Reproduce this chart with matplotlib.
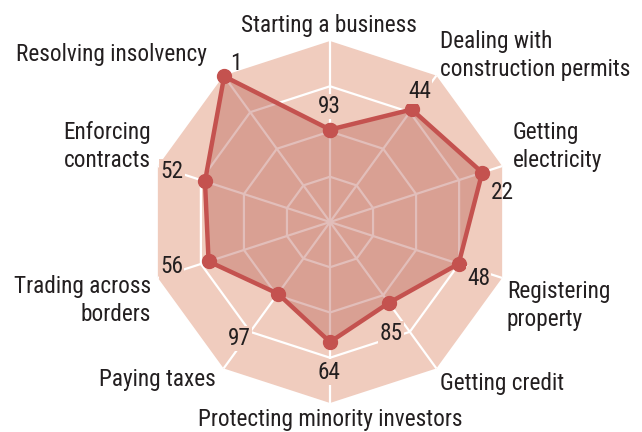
import numpy as np
import matplotlib
matplotlib.use("Agg")
import matplotlib.pyplot as plt
from matplotlib import font_manager
from matplotlib.font_manager import FontProperties

# ---- data ----
categories = ["Starting a business", "Dealing with\nconstruction permits",
              "Getting\nelectricity", "Registering\nproperty", "Getting credit",
              "Protecting minority investors", "Paying taxes",
              "Trading across\nborders", "Enforcing\ncontracts",
              "Resolving insolvency"]
ranks = [93, 44, 22, 48, 85, 64, 97, 56, 52, 1]
rank_max = 190
ring_fractions = [0.25, 0.5, 0.75]

# ---- font choice: a condensed sans if one is installed ----
entries = font_manager.fontManager.ttflist
def has(name, stretch=None):
    for f in entries:
        if f.name == name:
            if stretch is None:
                return True
            s = f.stretch
            if isinstance(s, str) and "condensed" in s:
                return True
            if isinstance(s, int) and s < 500:
                return True
    return False

choice = None
for nm in ["Roboto Condensed", "Liberation Sans Narrow", "Noto Sans Condensed",
           "Open Sans Condensed", "Noto Sans Display Condensed"]:
    if has(nm):
        choice = FontProperties(family=nm)
        break
if choice is None:
    for nm in ["Noto Sans", "Open Sans", "DejaVu Sans"]:
        if has(nm, "condensed"):
            choice = FontProperties(family=nm, stretch="condensed")
            break
if choice is None:
    choice = FontProperties(family="Lato")

TXT = "#231f20"
BG = "#f0ccbe"
FILL = "#b75e53"
RED = "#c4524f"

W, H = 642, 432
fig = plt.figure(figsize=(W / 100, H / 100), dpi=100)

# size the font so that "Resolving insolvency" is ~190 px wide, as in the reference
renderer = fig.canvas.get_renderer()
probe = fig.text(0, 0, "Resolving insolvency", fontproperties=choice, fontsize=10)
wpx = probe.get_window_extent(renderer).width
probe.remove()
FS = min(17.5, 10 * 190 / wpx)
fp = choice.copy()
fp.set_size(FS)

cx, cy, R = 330, 222, 181
ax = fig.add_axes([(cx - R) / W, (H - cy - R) / H, 2 * R / W, 2 * R / H],
                  projection="polar")
ax.set_theta_offset(np.pi / 2)
ax.set_theta_direction(-1)
ax.set_ylim(0, rank_max)
ax.axis("off")

n = len(categories)
theta = np.arange(n) * 2 * np.pi / n
theta_c = np.append(theta, theta[0])

# background decagon
ax.fill(theta_c, [rank_max] * (n + 1), color=BG, zorder=1, clip_on=False, lw=0)
# rings
for f in ring_fractions:
    ax.plot(theta_c, [rank_max * f] * (n + 1), color="white", lw=1.6, zorder=2,
            solid_joinstyle="miter")
# spokes
for t in theta:
    ax.plot([t, t], [0, rank_max], color="white", lw=1.6, zorder=2)

r = rank_max - np.array(ranks)
r_c = np.append(r, r[0])
ax.fill(theta_c, r_c, color=FILL, alpha=0.4, zorder=3, lw=0)
ax.plot(theta_c, r_c, color=RED, lw=3.2, marker="o", ms=10, zorder=4,
        clip_on=False, solid_joinstyle="round")

# value labels (offsets in pixels from the data point)
val_offsets = [(-1, -23), (8, -18), (20, 20), (20, 15), (2, 31),
               (-1, 30), (-39, 45), (-37, 5), (-33, -10), (12, -13)]
val_boxed = [True, True, False, True, True, True, True, True, True, False]
for t, rv, v, (dx, dy), boxed in zip(theta, r, ranks, val_offsets, val_boxed):
    kw = {}
    if boxed:
        kw["bbox"] = dict(boxstyle="square,pad=0.05", fc=BG, ec="none")
    ax.annotate(str(v), xy=(t, rv), xytext=(dx * 0.72, -dy * 0.72),
                textcoords="offset points", ha="center", va="center",
                fontproperties=fp, color=TXT, zorder=5,
                annotation_clip=False, **kw)

# category labels: (x, first baseline y, ha) in pixels
cat_pos = [(329, 32, "center"), (440, 48, "left"), (513, 139, "left"),
           (507, 298, "left"), (440, 390, "left"), (330, 426, "center"),
           (216, 386, "right"), (151, 293, "right"), (151, 139, "right"),
           (207, 61, "right")]
line_gap = 28
for label, (x, y, ha) in zip(categories, cat_pos):
    for k, line in enumerate(label.split("\n")):
        fig.text(x / W, 1 - (y + k * line_gap) / H, line, ha=ha, va="baseline",
                 fontproperties=fp, color=TXT)

fig.savefig("out.png", dpi=100, facecolor="white")
